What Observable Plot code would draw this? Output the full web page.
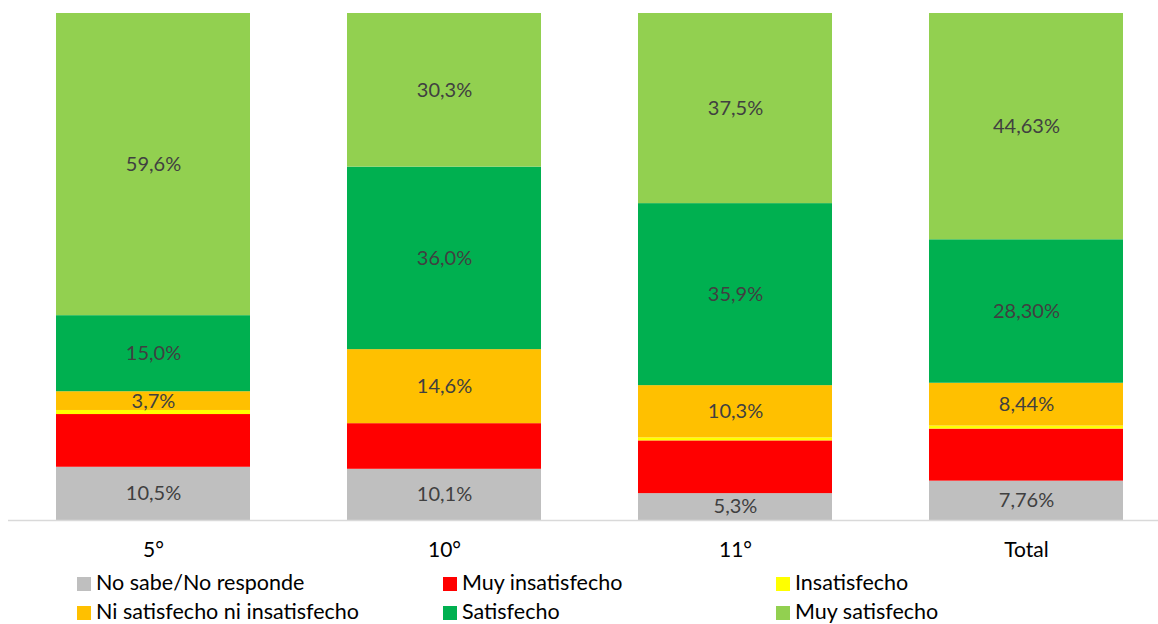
<!DOCTYPE html>
<html>
<head>
<meta charset="utf-8">
<script src="https://cdn.jsdelivr.net/npm/d3@7"></script>
<script src="https://cdn.jsdelivr.net/npm/@observablehq/plot@0.6"></script>
<style>
  html, body { margin: 0; padding: 0; background: #fff; }
  #wrap { position: relative; width: 1158px; height: 624px; font-family: Lato, "Open Sans", sans-serif; }
  .leg { position: absolute; font-size: 21.5px; color: #000; white-space: nowrap; line-height: 24px; }
  .leg span.sw { display: inline-block; width: 14px; height: 14px; margin-right: 5px; vertical-align: -1px; }
</style>
</head>
<body>
<div id="wrap"></div>
<script>
const categories = ["5°", "10°", "11°", "Total"];
const series = ["No sabe/No responde", "Muy insatisfecho", "Insatisfecho", "Ni satisfecho ni insatisfecho", "Satisfecho", "Muy satisfecho"];
const colors = ["#BFBFBF", "#FF0000", "#FFFF00", "#FFC000", "#00B050", "#92D050"];
// values per series, in order of categories
const noSabe        = [10.5, 10.1, 5.3, 7.76];
const muyInsat      = [10.4, 9.0, 10.4, 10.27];
const insat         = [0.8, 0.0, 0.6, 0.6];
const niNi          = [3.7, 14.6, 10.3, 8.44];
const satisf        = [15.0, 36.0, 35.9, 28.30];
const muySatisf     = [59.6, 30.3, 37.5, 44.63];
const labelNoSabe   = ["10,5%", "10,1%", "5,3%", "7,76%"];
const labelNiNi     = ["3,7%", "14,6%", "10,3%", "8,44%"];
const labelSatisf   = ["15,0%", "36,0%", "35,9%", "28,30%"];
const labelMuySat   = ["59,6%", "30,3%", "37,5%", "44,63%"];

const valueSets = [noSabe, muyInsat, insat, niNi, satisf, muySatisf];
const labelSets = [labelNoSabe, null, null, labelNiNi, labelSatisf, labelMuySat];

const data = [];
series.forEach((s, si) => {
  categories.forEach((c, ci) => {
    data.push({cat: c, series: s, value: valueSets[si][ci], label: labelSets[si] ? labelSets[si][ci] : ""});
  });
});

const chart = Plot.plot({
  width: 1158,
  height: 566,
  marginTop: 13,
  marginBottom: 46,
  marginLeft: 8,
  marginRight: 0,
  style: {fontFamily: "Lato, 'Open Sans', sans-serif", background: "#fff"},
  x: {domain: categories, range: [7.5, 1171.5], paddingInner: 1/3, paddingOuter: 1/6, label: null},
  y: {domain: [0, 100], axis: null},
  color: {domain: series, range: colors},
  marks: [
    Plot.barY(data, {x: "cat", y: "value", z: "series", fill: "series", order: series}),
    Plot.text(data, Plot.stackY({x: "cat", y: "value", z: "series", order: series, text: "label", fill: "#404040", fontSize: 20})),
    Plot.ruleY([0], {stroke: "#D9D9D9", strokeWidth: 1.5}),
    Plot.axisX({tickSize: 0, tickPadding: 22, fontSize: 21, color: "#000", label: null})
  ]
});
const wrap = document.getElementById("wrap");
wrap.appendChild(chart);

const legPos = [[77, 570], [443, 570], [776, 570], [77, 599], [443, 599], [776, 599]];
series.forEach((s, i) => {
  const d = document.createElement("div");
  d.className = "leg";
  d.style.left = legPos[i][0] + "px";
  d.style.top = legPos[i][1] + "px";
  d.innerHTML = `<span class="sw" style="background:${colors[i]}"></span>${s}`;
  wrap.appendChild(d);
});
</script>
</body>
</html>
